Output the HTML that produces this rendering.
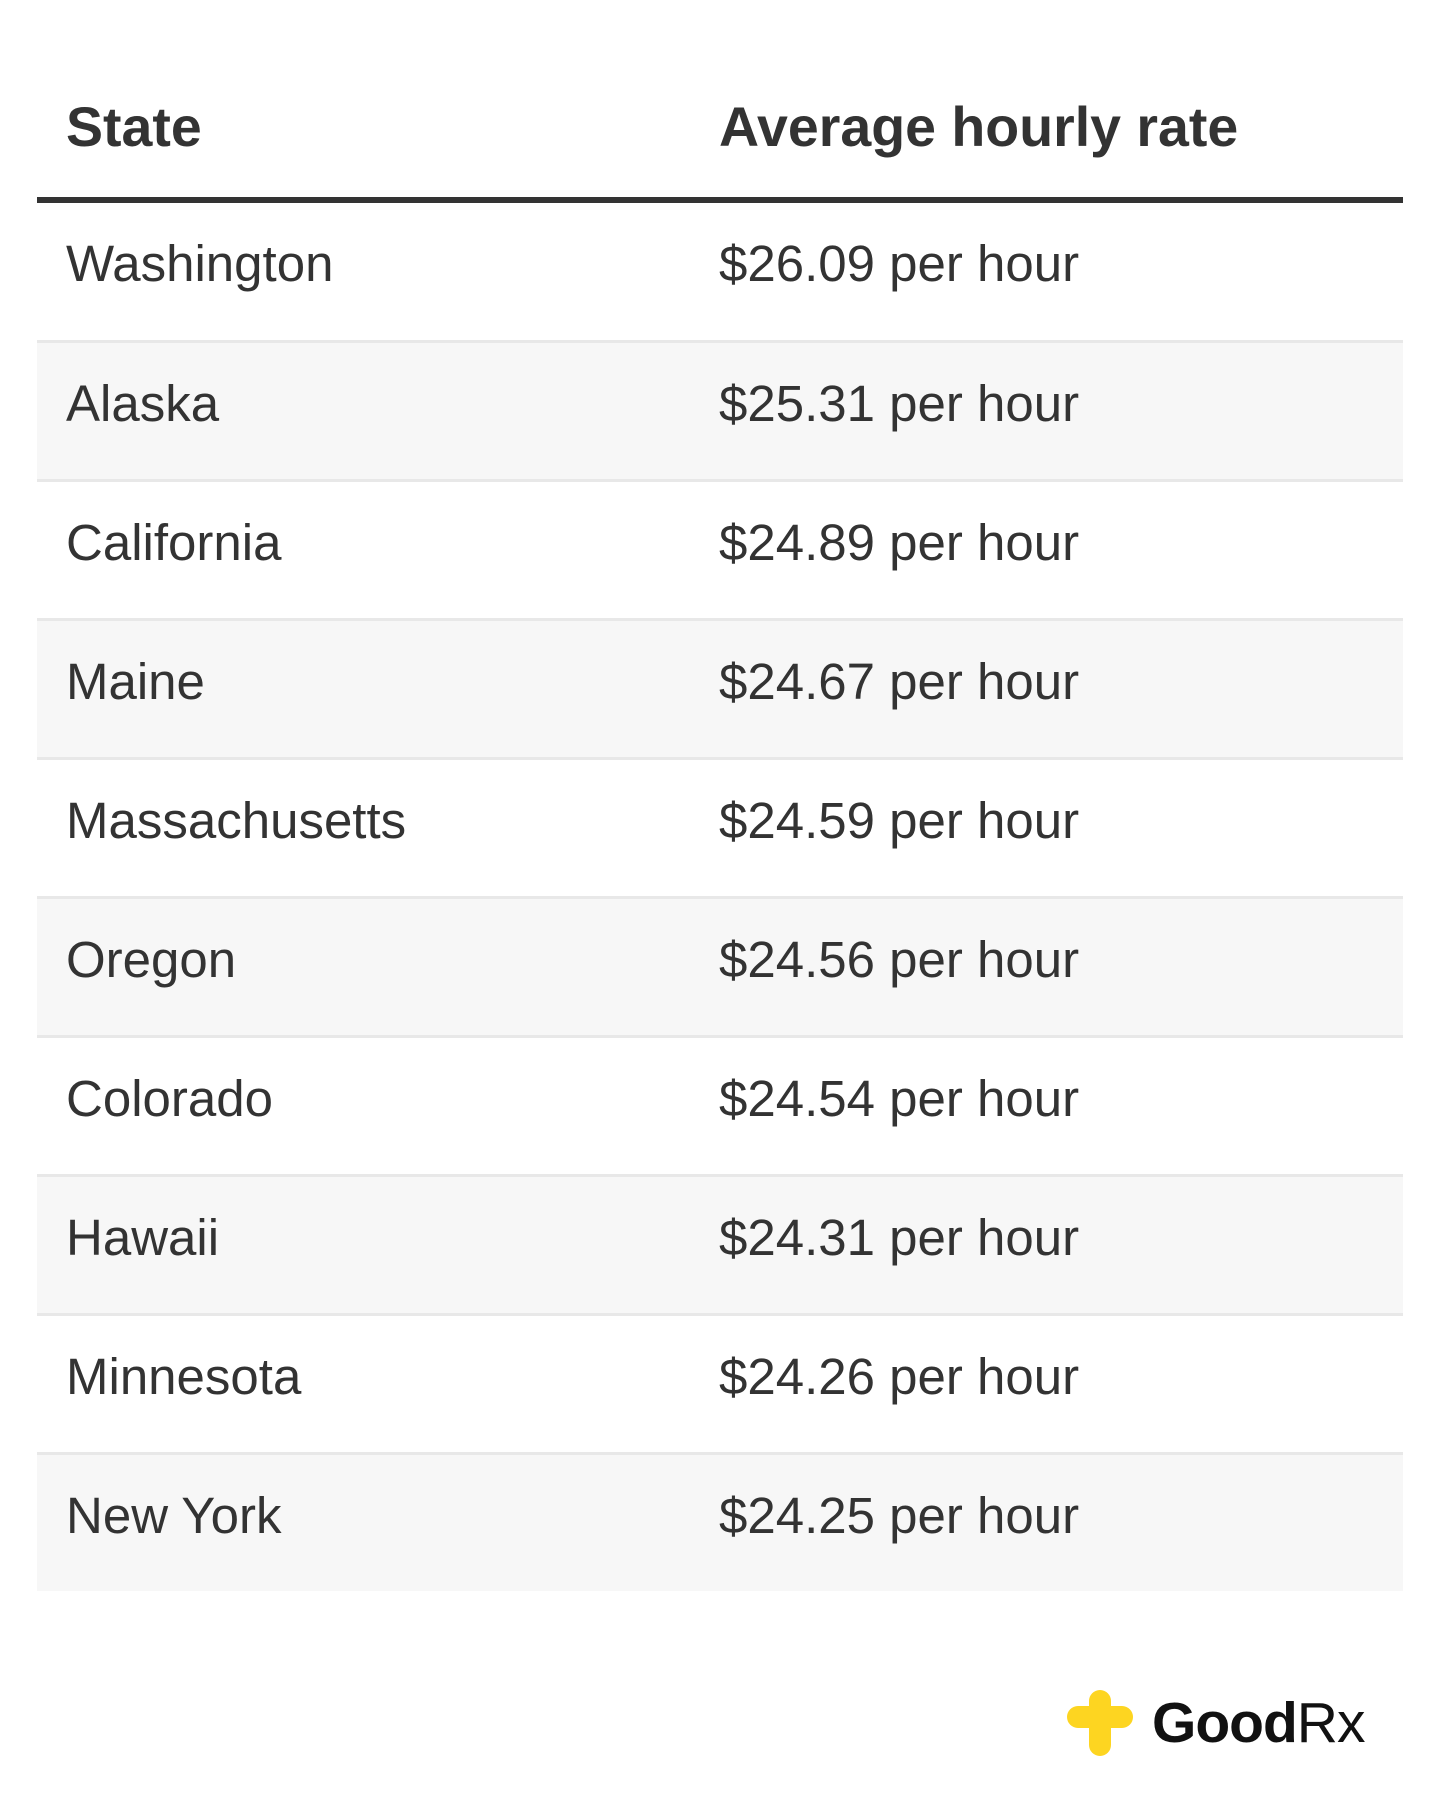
<!DOCTYPE html>
<html><head><meta charset="utf-8"><style>
*{margin:0;padding:0;box-sizing:border-box}
body{width:1440px;height:1809px;background:#fff;font-family:"Liberation Sans",Arial,sans-serif;color:#333;position:relative;overflow:hidden}
.hdr{position:absolute;top:92px;font-weight:bold;font-size:55.5px;color:#333;line-height:70px}
.thick{position:absolute;left:37px;width:1366px;top:197px;height:6px;background:#333}
.row{position:absolute;left:37px;width:1366px;height:139px;font-size:51px;line-height:139px}
.row.g{background:#f7f7f7}
.row.sep{border-top:3px solid #e8e8e8}
.row span{position:absolute;top:-9px}
.c1{left:29px}.c2{left:682px}
</style></head><body>
<div class="hdr" style="left:66px">State</div>
<div class="hdr" style="left:719px">Average hourly rate</div>
<div class="thick"></div>
<div class="row" style="top:203px"><span class="c1">Washington</span><span class="c2">$26.09 per hour</span></div>
<div class="row g sep" style="top:340px"><span class="c1">Alaska</span><span class="c2">$25.31 per hour</span></div>
<div class="row sep" style="top:479px"><span class="c1">California</span><span class="c2">$24.89 per hour</span></div>
<div class="row g sep" style="top:618px"><span class="c1">Maine</span><span class="c2">$24.67 per hour</span></div>
<div class="row sep" style="top:757px"><span class="c1">Massachusetts</span><span class="c2">$24.59 per hour</span></div>
<div class="row g sep" style="top:896px"><span class="c1">Oregon</span><span class="c2">$24.56 per hour</span></div>
<div class="row sep" style="top:1035px"><span class="c1">Colorado</span><span class="c2">$24.54 per hour</span></div>
<div class="row g sep" style="top:1174px"><span class="c1">Hawaii</span><span class="c2">$24.31 per hour</span></div>
<div class="row sep" style="top:1313px"><span class="c1">Minnesota</span><span class="c2">$24.26 per hour</span></div>
<div class="row g sep" style="top:1452px"><span class="c1">New York</span><span class="c2">$24.25 per hour</span></div>
<svg style="position:absolute;left:1067px;top:1690px" width="66" height="66" viewBox="0 0 66 66">
<rect x="22" y="0" width="22" height="66" rx="11" fill="#fdd521"/>
<rect x="0" y="16" width="66" height="22" rx="11" fill="#fdd521"/>
</svg>
<div style="position:absolute;left:1152px;top:1688px;font-size:57px;line-height:70px;color:#111;letter-spacing:-1px"><b>Good</b>Rx</div>
</body></html>
